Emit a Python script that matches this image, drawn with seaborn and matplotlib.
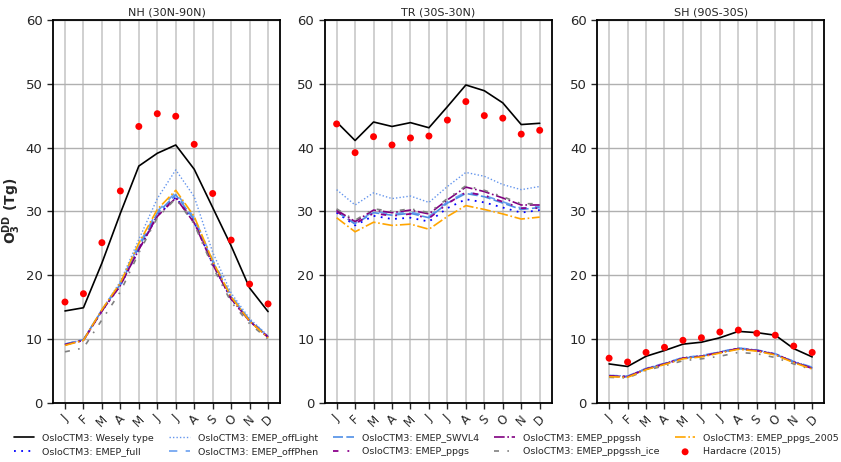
import numpy as np
import pandas as pd
import matplotlib
matplotlib.use("Agg")
import matplotlib.pyplot as plt
import seaborn as sns

months = ["J", "F", "M", "A", "M", "J", "J", "A", "S", "O", "N", "D"]
regions = ["NH (30N-90N)", "TR (30S-30N)", "SH (90S-30S)"]

# Monthly O3 dry deposition (Tg) per region
wesely = [
    [14.4, 14.9, 21.9, 29.7, 37.1, 39.1, 40.4, 36.6, 30.6, 24.6, 18.0, 14.3],
    [44.0, 41.1, 44.0, 43.3, 43.9, 43.1, 46.4, 49.8, 48.9, 47.0, 43.6, 43.8],
    [6.1, 5.7, 7.3, 8.2, 9.2, 9.5, 10.2, 11.2, 11.0, 10.6, 8.5, 7.2],
]
emep_full = [
    [9.1, 9.8, 14.4, 18.4, 24.0, 29.3, 32.2, 28.3, 21.8, 16.3, 12.8, 10.3],
    [29.8, 27.8, 29.3, 28.8, 29.0, 28.4, 30.5, 31.9, 31.4, 30.6, 29.8, 30.2],
    [4.2, 4.1, 5.3, 6.1, 7.0, 7.3, 7.9, 8.5, 8.2, 7.6, 6.4, 5.4],
]
emep_offlight = [
    [9.2, 9.9, 14.6, 19.0, 25.6, 32.0, 36.5, 32.3, 23.6, 17.2, 13.2, 10.5],
    [33.4, 31.0, 32.9, 32.0, 32.4, 31.4, 33.9, 36.1, 35.5, 34.2, 33.4, 33.9],
    [4.3, 4.2, 5.4, 6.2, 7.1, 7.4, 8.0, 8.6, 8.3, 7.7, 6.5, 5.6],
]
emep_offphen = [
    [9.2, 9.9, 14.6, 18.8, 24.8, 30.0, 33.0, 29.0, 22.4, 16.8, 13.0, 10.5],
    [30.1, 28.1, 30.0, 29.6, 29.9, 29.2, 31.5, 33.0, 32.5, 31.5, 30.5, 30.8],
    [4.3, 4.2, 5.4, 6.2, 7.1, 7.4, 8.0, 8.6, 8.3, 7.7, 6.5, 5.6],
]
emep_swvl4 = [
    [9.2, 9.9, 14.5, 18.6, 24.4, 29.7, 32.6, 28.7, 22.1, 16.6, 12.9, 10.4],
    [30.0, 28.0, 29.8, 29.4, 29.7, 29.0, 31.3, 32.8, 32.3, 31.3, 30.3, 30.6],
    [4.2, 4.1, 5.3, 6.1, 7.0, 7.3, 7.9, 8.5, 8.2, 7.6, 6.4, 5.5],
]
emep_ppgs = [
    [9.1, 9.8, 14.4, 18.4, 24.1, 29.3, 32.2, 28.3, 21.8, 16.3, 12.8, 10.3],
    [30.0, 28.1, 29.7, 29.3, 29.6, 28.9, 31.2, 33.0, 32.5, 31.5, 30.5, 30.5],
    [4.2, 4.1, 5.3, 6.1, 7.0, 7.3, 7.9, 8.5, 8.2, 7.6, 6.4, 5.4],
]
emep_ppgssh = [
    [9.1, 9.8, 14.4, 18.4, 24.0, 29.2, 32.1, 28.2, 21.7, 16.3, 12.8, 10.3],
    [30.2, 28.4, 30.2, 29.8, 30.2, 29.6, 31.8, 33.8, 33.1, 32.1, 31.0, 31.0],
    [4.2, 4.1, 5.3, 6.1, 7.0, 7.3, 7.9, 8.5, 8.2, 7.6, 6.4, 5.4],
]
emep_ppgssh_ice = [
    [8.0, 8.6, 13.0, 17.4, 23.5, 29.0, 32.0, 28.0, 21.3, 15.8, 12.4, 10.0],
    [30.4, 28.6, 30.4, 30.0, 30.4, 29.8, 32.0, 34.0, 33.3, 32.3, 31.2, 31.2],
    [4.0, 3.9, 5.1, 5.8, 6.6, 6.9, 7.3, 7.9, 7.7, 7.1, 6.1, 5.2],
]
emep_ppgs_2005 = [
    [9.0, 9.8, 14.6, 18.8, 25.0, 30.3, 33.3, 29.2, 22.2, 16.6, 12.8, 10.2],
    [29.0, 26.8, 28.3, 27.8, 28.0, 27.2, 29.2, 30.9, 30.3, 29.6, 28.8, 29.1],
    [4.1, 4.0, 5.2, 6.0, 6.9, 7.2, 7.8, 8.4, 8.1, 7.5, 6.3, 5.3],
]
hardacre = [
    [15.8, 17.1, 25.1, 33.2, 43.3, 45.3, 44.9, 40.5, 32.8, 25.5, 18.6, 15.5],
    [43.7, 39.2, 41.7, 40.4, 41.5, 41.8, 44.3, 47.2, 45.0, 44.6, 42.1, 42.7],
    [7.0, 6.4, 7.9, 8.7, 9.8, 10.2, 11.1, 11.4, 10.9, 10.6, 8.9, 7.9],
]

series = [
    ("OsloCTM3: Wesely type", wesely, dict(color="black", ls="-", lw=1.2)),
    ("OsloCTM3: EMEP_full", emep_full, dict(color="blue", ls=(0, (1, 3)), lw=1.3)),
    ("OsloCTM3: EMEP_offLight", emep_offlight, dict(color="#6495ed", ls=(0, (1, 1.5)), lw=1.0)),
    ("OsloCTM3: EMEP_offPhen", emep_offphen, dict(color="#6aa0f0", ls=(0, (5, 5)), lw=1.2)),
    ("OsloCTM3: EMEP_SWVL4", emep_swvl4, dict(color="#4f8fe6", ls=(0, (6, 2)), lw=1.2)),
    ("OsloCTM3: EMEP_ppgs", emep_ppgs, dict(color="#8b008b", ls=(0, (3, 5, 1, 5)), lw=1.3)),
    ("OsloCTM3: EMEP_ppgssh", emep_ppgssh, dict(color="#800080", ls="-.", lw=1.2)),
    ("OsloCTM3: EMEP_ppgssh_ice", emep_ppgssh_ice, dict(color="gray", ls=(0, (3, 5, 1, 5)), lw=1.2)),
    ("OsloCTM3: EMEP_ppgs_2005", emep_ppgs_2005, dict(color="orange", ls="-.", lw=1.2)),
]

sns.set_theme(style="ticks")
plt.rcParams["font.family"] = ["DejaVu Sans"]

fig = plt.figure(figsize=(8.41, 4.62), dpi=100)
lefts = [0.063, 0.386, 0.710]
axes = [fig.add_axes([l, 0.128, 0.27, 0.829]) for l in lefts]

x = np.arange(len(months))
for i, ax in enumerate(axes):
    for name, vals, style in series:
        df = pd.DataFrame({"month": x, "value": vals[i]})
        sns.lineplot(data=df, x="month", y="value", ax=ax, label=name, legend=False, **style)
    dfh = pd.DataFrame({"month": x, "value": hardacre[i]})
    sns.scatterplot(data=dfh, x="month", y="value", ax=ax, color="red", s=25,
                    edgecolor="none", label="Hardacre (2015)", legend=False, zorder=5)
    ax.set_xlim(-0.65, 11.65)
    ax.set_ylim(0, 60)
    ax.set_xticks(x)
    ax.set_xticklabels(months, rotation=45, fontsize=8.5)
    ax.set_yticks(np.arange(0, 61, 10))
    ax.tick_params(axis="y", labelsize=9.5, length=4, width=1)
    ax.tick_params(axis="x", length=4, width=1, pad=3)
    ax.grid(True, axis="y", color="#b0b0b0", lw=1.0)
    ax.grid(True, axis="x", color="#c8c8c8", lw=1.2)
    ax.set_axisbelow(True)
    for sp in ax.spines.values():
        sp.set_visible(True)
        sp.set_color("black")
        sp.set_linewidth(1.3)
    ax.set_xlabel("")
    ax.set_ylabel("")
    ax.set_title(regions[i], fontsize=8, pad=3)

axes[0].set_ylabel(r"$\mathbf{O_3^{DD}}$ (Tg)", fontsize=10, fontweight="bold")
axes[0].yaxis.set_label_coords(-0.13, 0.5)

handles, labels = axes[0].get_legend_handles_labels()
fig.legend(handles, labels, loc="lower left", ncol=5, frameon=False, fontsize=6.8,
           bbox_to_anchor=(0.006, -0.006), columnspacing=1.65, handlelength=2.2,
           handletextpad=0.8)

fig.savefig("out.png", dpi=100)
